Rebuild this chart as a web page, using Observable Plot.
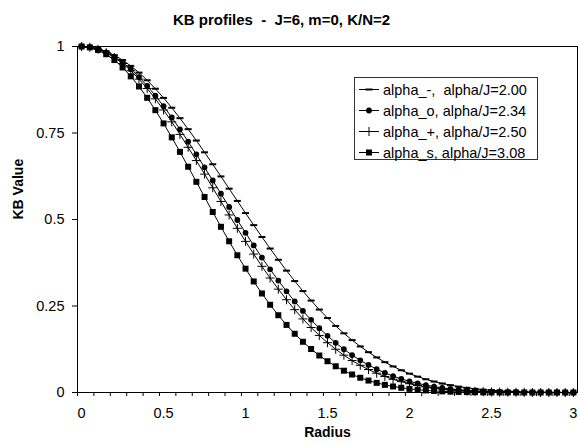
<!DOCTYPE html>
<html>
<head>
<meta charset="utf-8">
<script src="https://cdn.jsdelivr.net/npm/d3@7"></script>
<script src="https://cdn.jsdelivr.net/npm/@observablehq/plot@0.6"></script>
<style>
  html, body { margin: 0; padding: 0; background: #fff; }
  #wrap { position: relative; width: 579px; height: 445px; font-family: "Liberation Sans", Arial, sans-serif; color: #000; }
  #title { position: absolute; left: 0; top: 11px; width: 563px; text-align: center; font-weight: bold; font-size: 15px; line-height: 18px; white-space: pre; }
  #legend { position: absolute; left: 354px; top: 77px; width: 184px; height: 83px; border: 1px solid #333; background: #fff; box-sizing: border-box; padding-top: 1px; }
  .row { height: 21px; display: flex; align-items: center; font-size: 14.5px; white-space: pre; }
  .row svg { margin-left: 4px; margin-right: 4px; }
</style>
</head>
<body>
<div id="wrap">
  <div id="chart"></div>
  <div id="title"></div>
  <div id="legend"></div>
</div>
<script>
const title = "KB profiles  -  J=6, m=0, K/N=2";
const seriesNames = ["alpha_-,  alpha/J=2.00", "alpha_o, alpha/J=2.34", "alpha_+, alpha/J=2.50", "alpha_s, alpha/J=3.08"];
const radius = [0,0.05,0.1,0.15,0.2,0.25,0.3,0.35,0.4,0.45,0.5,0.55,0.6,0.65,0.7,0.75,0.8,0.85,0.9,0.95,
  1,1.05,1.1,1.15,1.2,1.25,1.3,1.35,1.4,1.45,1.5,1.55,1.6,1.65,1.7,1.75,1.8,1.85,1.9,1.95,
  2,2.05,2.1,2.15,2.2,2.25,2.3,2.35,2.4,2.45,2.5,2.55,2.6,2.65,2.7,2.75,2.8,2.85,2.9,2.95,3];
const alphaMinus = [1,0.9984,0.9936,0.9857,0.9747,0.9608,0.9440,0.9245,0.9024,0.8780,0.8515,0.8230,0.7928,0.7611,0.7282,0.6942,0.6596,0.6245,0.5891,0.5537,
  0.5185,0.4837,0.4495,0.4161,0.3836,0.3522,0.3220,0.2931,0.2657,0.2397,0.2153,0.1924,0.1711,0.1514,0.1332,0.1166,0.1014,0.0877,0.0754,0.0643,
  0.0545,0.0459,0.0383,0.0317,0.0260,0.0212,0.0170,0.0135,0.0106,0.0082,0.0063,0.0047,0.0035,0.0025,0.0017,0.0012,0.0008,0.0005,0.0003,0.0001,0.0001];
const alphaO = [1,0.9981,0.9925,0.9832,0.9703,0.9540,0.9344,0.9117,0.8861,0.8580,0.8275,0.7950,0.7607,0.7251,0.6883,0.6507,0.6127,0.5744,0.5363,0.4985,
  0.4614,0.4251,0.3899,0.3560,0.3235,0.2925,0.2632,0.2357,0.2099,0.1859,0.1638,0.1435,0.1250,0.1082,0.0930,0.0795,0.0674,0.0568,0.0475,0.0394,
  0.0324,0.0265,0.0214,0.0171,0.0135,0.0106,0.0082,0.0063,0.0047,0.0035,0.0025,0.0018,0.0012,0.0008,0.0006,0.0003,0.0002,0.0001,0,0,0];
const alphaPlus = [1,0.9980,0.9920,0.9820,0.9683,0.9508,0.9299,0.9057,0.8786,0.8487,0.8165,0.7822,0.7461,0.7087,0.6703,0.6312,0.5917,0.5522,0.5131,0.4745,
  0.4367,0.4001,0.3647,0.3308,0.2986,0.2681,0.2394,0.2127,0.1879,0.1650,0.1440,0.1250,0.1078,0.0923,0.0786,0.0664,0.0557,0.0463,0.0382,0.0313,
  0.0254,0.0204,0.0163,0.0128,0.0100,0.0077,0.0058,0.0043,0.0032,0.0023,0.0016,0.0011,0.0008,0.0005,0.0003,0.0002,0.0001,0.0001,0,0,0];
const alphaS = [1,0.9975,0.9901,0.9778,0.9608,0.9394,0.9138,0.8845,0.8517,0.8160,0.7777,0.7374,0.6955,0.6525,0.6089,0.5651,0.5217,0.4789,0.4371,0.3967,
  0.3579,0.3210,0.2862,0.2536,0.2233,0.1954,0.1698,0.1466,0.1256,0.1069,0.0904,0.0758,0.0630,0.0520,0.0426,0.0345,0.0278,0.0221,0.0174,0.0136,
  0.0105,0.0080,0.0060,0.0045,0.0033,0.0024,0.0017,0.0012,0.0008,0.0005,0.0003,0.0002,0.0001,0.0001,0,0,0,0,0,0,0];
const xLabelTicks = [0, 0.5, 1, 1.5, 2, 2.5, 3];
const xMinorTicks = [-0.025,0.075,0.175,0.275,0.375,0.475,0.575,0.675,0.775,0.875,0.975,1.075,1.175,1.275,1.375,1.475,1.575,1.675,1.775,1.875,1.975,2.075,2.175,2.275,2.375,2.475,2.575,2.675,2.775,2.875,2.975];
const yTicks = [0, 0.25, 0.5, 0.75, 1];

const allSeries = [alphaMinus, alphaO, alphaPlus, alphaS];
const data = [];
allSeries.forEach((vals, k) => radius.forEach((r, i) => data.push({r, v: vals[i], s: seriesNames[k]})));

// marker shapes
const dashSym = {draw(ctx) { ctx.rect(-3.5, -1, 7, 2); }};
const plusSym = {draw(ctx) { ctx.moveTo(-4.5, 0); ctx.lineTo(4.5, 0); ctx.moveTo(0, -4.5); ctx.lineTo(0, 4.5); }};
const squareSym = {draw(ctx) { ctx.rect(-3, -3, 6, 6); }};
const circleSym = {draw(ctx) { ctx.moveTo(2.9, 0); ctx.arc(0, 0, 2.9, 0, 2 * Math.PI); }};
const markerStyles = [
  {symbol: dashSym, fill: "black", stroke: "none"},
  {symbol: circleSym, fill: "black", stroke: "none"},
  {symbol: plusSym, fill: "none", stroke: "black", strokeWidth: 1},
  {symbol: squareSym, fill: "black", stroke: "none"}
];

const font = '"Liberation Sans", Arial, sans-serif';
const chart = Plot.plot({
  width: 579, height: 445,
  marginTop: 46, marginBottom: 53, marginLeft: 77, marginRight: 2,
  x: {domain: [-0.025, 3.025]},
  y: {domain: [0, 1]},
  style: {fontFamily: font, fontSize: "14.5px", color: "black", background: "white"},
  marks: [
    Plot.frame({stroke: "black", strokeWidth: 1}),
    Plot.axisX({ticks: xMinorTicks, tickSize: 4, tickFormat: () => "", label: null, strokeWidth: 1}),
    Plot.axisX({ticks: xLabelTicks, tickSize: 0, tickPadding: 15, tickFormat: d => String(d), label: null}),
    Plot.axisY({ticks: yTicks, tickSize: 5, tickPadding: 8, tickFormat: d => String(d), label: null}),
    Plot.line(data, {x: "r", y: "v", z: "s", stroke: "black", strokeWidth: 1}),
    ...seriesNames.map((name, k) => Plot.dot(data.filter(d => d.s === name), {x: "r", y: "v", ...markerStyles[k]})),
    Plot.text(["KB Value"], {frameAnchor: "left", dx: -59, rotate: -90, fontWeight: "bold", fontSize: 14}),
    Plot.text(["Radius"], {frameAnchor: "bottom", dy: 44, fontWeight: "bold", fontSize: 14})
  ]
});
document.getElementById("chart").appendChild(chart);
document.getElementById("title").textContent = title;

// legend
const legend = document.getElementById("legend");
seriesNames.forEach((name, k) => {
  const row = document.createElement("div");
  row.className = "row";
  const svg = d3.create("svg").attr("width", 20).attr("height", 21);
  svg.append("line").attr("x1", 0).attr("x2", 20).attr("y1", 10.5).attr("y2", 10.5).attr("stroke", "black");
  const p = d3.path();
  markerStyles[k].symbol.draw(p);
  svg.append("path").attr("d", p.toString()).attr("transform", "translate(10,10.5)")
    .attr("fill", markerStyles[k].fill).attr("stroke", markerStyles[k].stroke);
  row.appendChild(svg.node());
  const span = document.createElement("span");
  span.textContent = name;
  row.appendChild(span);
  legend.appendChild(row);
});
</script>
</body>
</html>
